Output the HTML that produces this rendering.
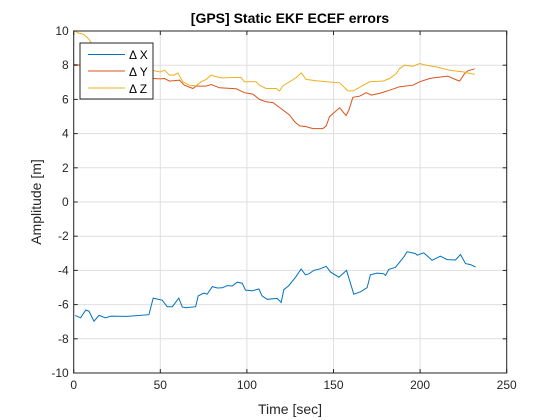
<!DOCTYPE html>
<html><head><meta charset="utf-8"><style>
body{margin:0;background:#fff}
svg{display:block;font-family:"Liberation Sans",Arial,sans-serif}
</style></head><body>
<svg id="chart" width="560" height="420" xmlns="http://www.w3.org/2000/svg">
<rect width="560" height="420" fill="#fff"/>
<g id="grid"></g>
<g id="series"></g>
<rect x="73.7" y="31" width="433" height="342" fill="none" stroke="#262626" stroke-width="1"/>
<g id="ticks"></g>
<text x="290" y="23" font-size="14" font-weight="bold" text-anchor="middle" fill="#000">[GPS] Static EKF ECEF errors</text>
<text x="290" y="414" font-size="14" text-anchor="middle" fill="#262626">Time [sec]</text>
<text transform="translate(41,202) rotate(-90)" font-size="14" text-anchor="middle" fill="#262626">Amplitude [m]</text>
<g>
<rect x="80" y="43" width="73" height="56" fill="#fff" stroke="#262626" stroke-width="1"/>
<line x1="88" y1="54.5" x2="125" y2="54.5" stroke="#0072bd"/>
<text x="129" y="59" font-size="12" fill="#000">Δ X</text>
<line x1="88" y1="71" x2="125" y2="71" stroke="#d95319"/>
<text x="129" y="76" font-size="12" fill="#000">Δ Y</text>
<line x1="88" y1="88" x2="125" y2="88" stroke="#edb120"/>
<text x="129" y="93" font-size="12" fill="#000">Δ Z</text>
</g>
</svg>
<script>
const xTicks=[0,50,100,150,200,250];
const yTicks=[-10,-8,-6,-4,-2,0,2,4,6,8,10];
const tX=[0.8,4,6.9,8.8,11.7,14.6,18.4,21.3,30.9,43.4,45.9,51.1,54,56.9,60.7,62.7,64.6,70.4,71.9,75.2,77.1,80,82.9,85.8,88.7,91.5,94.4,97.3,99.2,103.1,106.9,108.8,111.7,117.5,119.8,121.3,124.2,128.1,131.3,133.8,135.8,138.6,142.5,145.8,148.3,153.1,157.5,161.7,165.6,169.4,171.3,175.2,179,180,181.9,185.8,190.6,192.5,197.3,198.3,202.1,206.9,211.7,215.6,220.4,223.3,226.2,229.1,232];
const vX=[-6.63,-6.77,-6.32,-6.38,-6.97,-6.63,-6.77,-6.67,-6.69,-6.59,-5.62,-5.74,-6.12,-6.12,-5.62,-6.14,-6.18,-6.12,-5.49,-5.33,-5.39,-4.95,-5.03,-5.01,-4.89,-4.91,-4.69,-4.75,-5.15,-5.19,-5.09,-5.49,-5.69,-5.64,-5.88,-5.13,-4.89,-4.4,-3.92,-4.26,-4.2,-4.0,-3.9,-3.76,-4.1,-4.4,-4.0,-5.39,-5.25,-5.01,-4.26,-4.16,-4.2,-4.3,-3.94,-3.82,-3.21,-2.91,-3.01,-3.11,-2.97,-3.41,-3.17,-3.37,-3.39,-3.07,-3.6,-3.66,-3.8];
const tY=[0,3.8,6.7,10,20,30,40,50,52.4,55.3,61.1,63.9,68.8,70.7,76.5,79.4,84.2,93.8,98.6,103.4,107.3,111.1,115,118.8,124.6,127.5,130.4,134.2,138.1,143.8,145.8,147.7,153.5,157.3,158.9,161.2,165,168.9,171.8,176.6,182.4,188.2,195.9,199.7,205.5,209.4,216.1,219,222.8,225.7,227.6,231.5];
const vY=[8.06,8.0,7.75,7.6,7.4,7.3,7.25,7.2,7.22,7.07,7.13,6.83,6.64,6.78,6.78,6.87,6.68,6.62,6.39,6.31,6.0,5.86,5.81,5.53,5.09,4.7,4.45,4.41,4.29,4.29,4.45,4.99,5.51,5.05,5.38,6.12,6.19,6.39,6.25,6.35,6.54,6.74,6.83,7.03,7.22,7.28,7.36,7.22,7.07,7.51,7.67,7.79];
const tZ=[0,2.9,5.8,8.6,12,20,35,50,52.4,55.3,58.1,60.1,63,66.8,70.7,73.5,76.5,79.4,82.2,86.1,91.8,96.6,98.6,105.3,107.3,111.1,116.9,118.8,120.8,124.6,128.5,131.4,134.2,140,145.8,153.5,158.3,161.2,165,170.8,178.5,182.4,186.2,188.2,191.1,195.9,199.7,203.6,209.4,217.1,224.8,231.5];
const vZ=[10.04,9.88,9.8,9.55,9.0,8.3,7.9,7.6,7.71,7.42,7.42,7.55,7.03,6.83,6.8,7.03,7.17,7.42,7.32,7.26,7.28,7.28,7.03,7.03,6.83,6.64,6.64,6.49,6.8,7.03,7.28,7.55,7.17,7.09,7.03,6.97,6.5,6.5,6.7,7.03,7.07,7.22,7.51,7.81,8.0,7.94,8.1,8.0,7.9,7.71,7.61,7.46];
const X0=73.7,X1=506.7,Y0=373,Y1=31;
function sx(t){return X0+(t-0)/(250-0)*(X1-X0);}
function sy(v){return Y0-(v+10)/20*(Y0-Y1);}
const NS='http://www.w3.org/2000/svg';
const grid=document.getElementById('grid'),ticks=document.getElementById('ticks'),ser=document.getElementById('series');
function mk(tag,attrs,parent){const e=document.createElementNS(NS,tag);for(const k in attrs)e.setAttribute(k,attrs[k]);parent.appendChild(e);return e;}
xTicks.forEach(t=>{const x=sx(t);
 const g=mk('line',{x1:x,y1:Y1,x2:x,y2:Y0,stroke:'#dfdfdf','stroke-width':1},grid);
 
 
 mk('line',{x1:x,y1:Y0,x2:x,y2:Y0-4,stroke:'#262626'},ticks);
 mk('line',{x1:x,y1:Y1,x2:x,y2:Y1+4,stroke:'#262626'},ticks);
 const l=mk('text',{x:x,y:Y0+16,'font-size':12,'text-anchor':'middle',fill:'#262626'},ticks);
 l.textContent=t;
 
 
});
yTicks.forEach(v=>{const y=sy(v);
 const g=mk('line',{x1:X0,y1:y,x2:X1,y2:y,stroke:'#dfdfdf','stroke-width':1},grid);
 
 
 mk('line',{x1:X0,y1:y,x2:X0+4,y2:y,stroke:'#262626'},ticks);
 mk('line',{x1:X1,y1:y,x2:X1-4,y2:y,stroke:'#262626'},ticks);
 const l=mk('text',{x:X0-5,y:y+4,'font-size':12,'text-anchor':'end',fill:'#262626'},ticks);
 l.textContent=v;
 
 
});
function line(ts,vs,color,name){
 const d=ts.map((t,i)=>(i?'L':'M')+sx(t).toFixed(1)+' '+sy(vs[i]).toFixed(1)).join(' ');
 const p=mk('path',{d:d,fill:'none',stroke:color,'stroke-width':1},ser);
 
 
}
line(tX,vX,'#0072bd','series-delta-x');
line(tY,vY,'#d95319','series-delta-y');
line(tZ,vZ,'#edb120','series-delta-z');
</script>
</body></html>
